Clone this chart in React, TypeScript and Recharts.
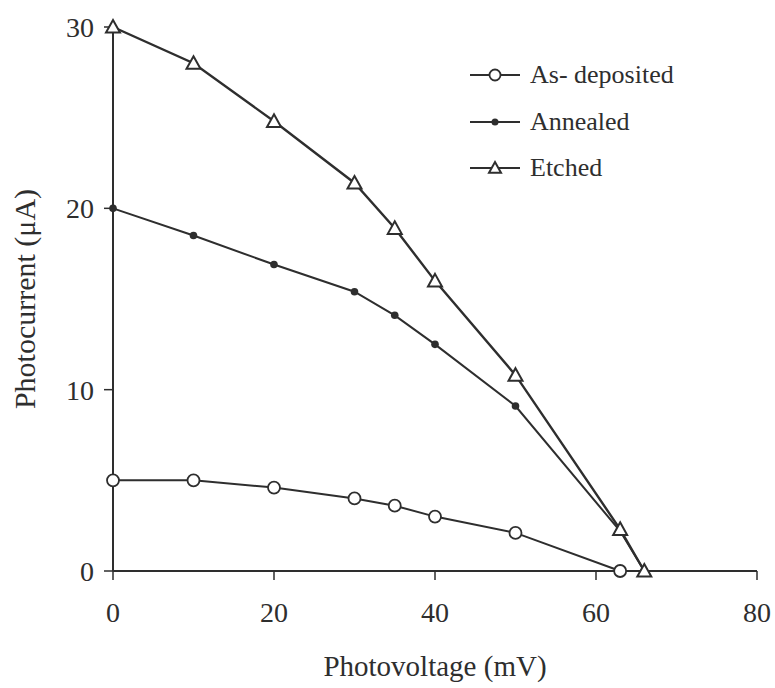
import React from 'react';
import { LineChart, Line, XAxis, YAxis, Legend } from 'recharts';

// Photovoltage (mV) sample points for each film condition
const asDepositedV = [0, 10, 20, 30, 35, 40, 50, 63];
const asDepositedI = [5, 5, 4.6, 4.0, 3.6, 3.0, 2.1, 0];

const annealedV = [0, 10, 20, 30, 35, 40, 50, 63, 66];
const annealedI = [20, 18.5, 16.9, 15.4, 14.1, 12.5, 9.1, 2.2, 0];

const etchedV = [0, 10, 20, 30, 35, 40, 50, 63, 66];
const etchedI = [30, 28, 24.8, 21.4, 18.9, 16.0, 10.8, 2.3, 0];

const xTicks = [0, 20, 40, 60, 80];
const yTicks = [0, 10, 20, 30];

const zip = (v: number[], i: number[]) => v.map((x, k) => ({ v: x, i: i[k] }));

const asDeposited = zip(asDepositedV, asDepositedI);
const annealed = zip(annealedV, annealedI);
const etched = zip(etchedV, etchedI);

const FONT = '"Liberation Serif", "Times New Roman", serif';
const INK = '#2e2e2e';

const OpenCircle = (p: any) => (
  <circle key={`c-${p.index}`} cx={p.cx} cy={p.cy} r={6} fill="#fff" stroke={INK} strokeWidth={1.8} />
);

const FilledDot = (p: any) => (
  <circle key={`d-${p.index}`} cx={p.cx} cy={p.cy} r={3.8} fill={INK} stroke="none" />
);

const triPath = (cx: number, cy: number, s = 7) =>
  `M${cx},${cy - s} L${cx + s},${cy + s * 0.8} L${cx - s},${cy + s * 0.8} Z`;

const OpenTriangle = (p: any) => (
  <path key={`t-${p.index}`} d={triPath(p.cx, p.cy)} fill="#fff" stroke={INK} strokeWidth={2} />
);

const legendItems = [
  { name: 'As- deposited', marker: 'circle' },
  { name: 'Annealed', marker: 'dot' },
  { name: 'Etched', marker: 'triangle' },
];

const LegendContent = () => (
  <div style={{ fontFamily: FONT, fontSize: 26, color: INK }}>
    {legendItems.map((it) => (
      <div key={it.name} style={{ display: 'flex', alignItems: 'center', height: 46.5 }}>
        <svg width={56} height={20} style={{ marginRight: 6 }}>
          <line x1={2} y1={10} x2={52} y2={10} stroke={INK} strokeWidth={2} />
          {it.marker === 'circle' && <circle cx={27} cy={10} r={5.5} fill="#fff" stroke={INK} strokeWidth={1.8} />}
          {it.marker === 'dot' && <circle cx={27} cy={10} r={3.5} fill={INK} />}
          {it.marker === 'triangle' && <path d={triPath(27, 10, 6)} fill="#fff" stroke={INK} strokeWidth={2} />}
        </svg>
        <span style={{ lineHeight: 1 }}>{it.name}</span>
      </div>
    ))}
  </div>
);

export default function App() {
  return (
    <div style={{ position: 'absolute', left: 0, top: 0, width: 775, height: 688, background: '#fff' }}>
      <LineChart width={775} height={688} margin={{ top: 27, right: 18, left: 0, bottom: 0 }}>
        <XAxis
          xAxisId="b"
          dataKey="v"
          type="number"
          domain={[0, 80]}
          ticks={xTicks}
          allowDuplicatedCategory={false}
          height={117}
          tickSize={9}
          tickMargin={22}
          axisLine={{ stroke: INK, strokeWidth: 2 }}
          tickLine={{ stroke: INK, strokeWidth: 1.5 }}
          tick={{ fontSize: 28, fill: INK, fontFamily: FONT }}
          label={{ value: 'Photovoltage (mV)', position: 'insideBottom', offset: 12, style: { fontSize: 29, fill: INK, fontFamily: FONT } }}
        />
        <XAxis
          xAxisId="t"
          orientation="top"
          type="number"
          domain={[0, 80]}
          height={0}
          tick={false}
          tickLine={false}
          axisLine={{ stroke: '#555', strokeWidth: 1.5 }}
        />
        <YAxis
          yAxisId="l"
          type="number"
          domain={[0, 30]}
          ticks={yTicks}
          width={113}
          tickSize={9}
          tickMargin={10}
          axisLine={{ stroke: INK, strokeWidth: 2 }}
          tickLine={{ stroke: INK, strokeWidth: 1.5 }}
          tick={{ fontSize: 28, fill: INK, fontFamily: FONT }}
          label={{ value: 'Photocurrent (μA)', angle: -90, position: 'insideLeft', offset: 24, style: { textAnchor: 'middle', fontSize: 30, fill: INK, fontFamily: FONT } }}
        />
        <YAxis
          yAxisId="r"
          orientation="right"
          type="number"
          domain={[0, 30]}
          width={0}
          tick={false}
          tickLine={false}
          axisLine={{ stroke: INK, strokeWidth: 2 }}
        />
        <Legend
          layout="vertical"
          align="center"
          verticalAlign="middle"
          content={LegendContent}
          wrapperStyle={{ position: 'absolute', left: 468, top: 52, width: 260 }}
        />
        <Line
          xAxisId="b"
          yAxisId="l"
          data={asDeposited}
          dataKey="i"
          name="As- deposited"
          type="linear"
          stroke={INK}
          strokeWidth={2}
          dot={OpenCircle}
          isAnimationActive={false}
        />
        <Line
          xAxisId="b"
          yAxisId="l"
          data={annealed}
          dataKey="i"
          name="Annealed"
          type="linear"
          stroke={INK}
          strokeWidth={2}
          dot={FilledDot}
          isAnimationActive={false}
        />
        <Line
          xAxisId="b"
          yAxisId="l"
          data={etched}
          dataKey="i"
          name="Etched"
          type="linear"
          stroke={INK}
          strokeWidth={2.4}
          dot={OpenTriangle}
          isAnimationActive={false}
        />
      </LineChart>
    </div>
  );
}
